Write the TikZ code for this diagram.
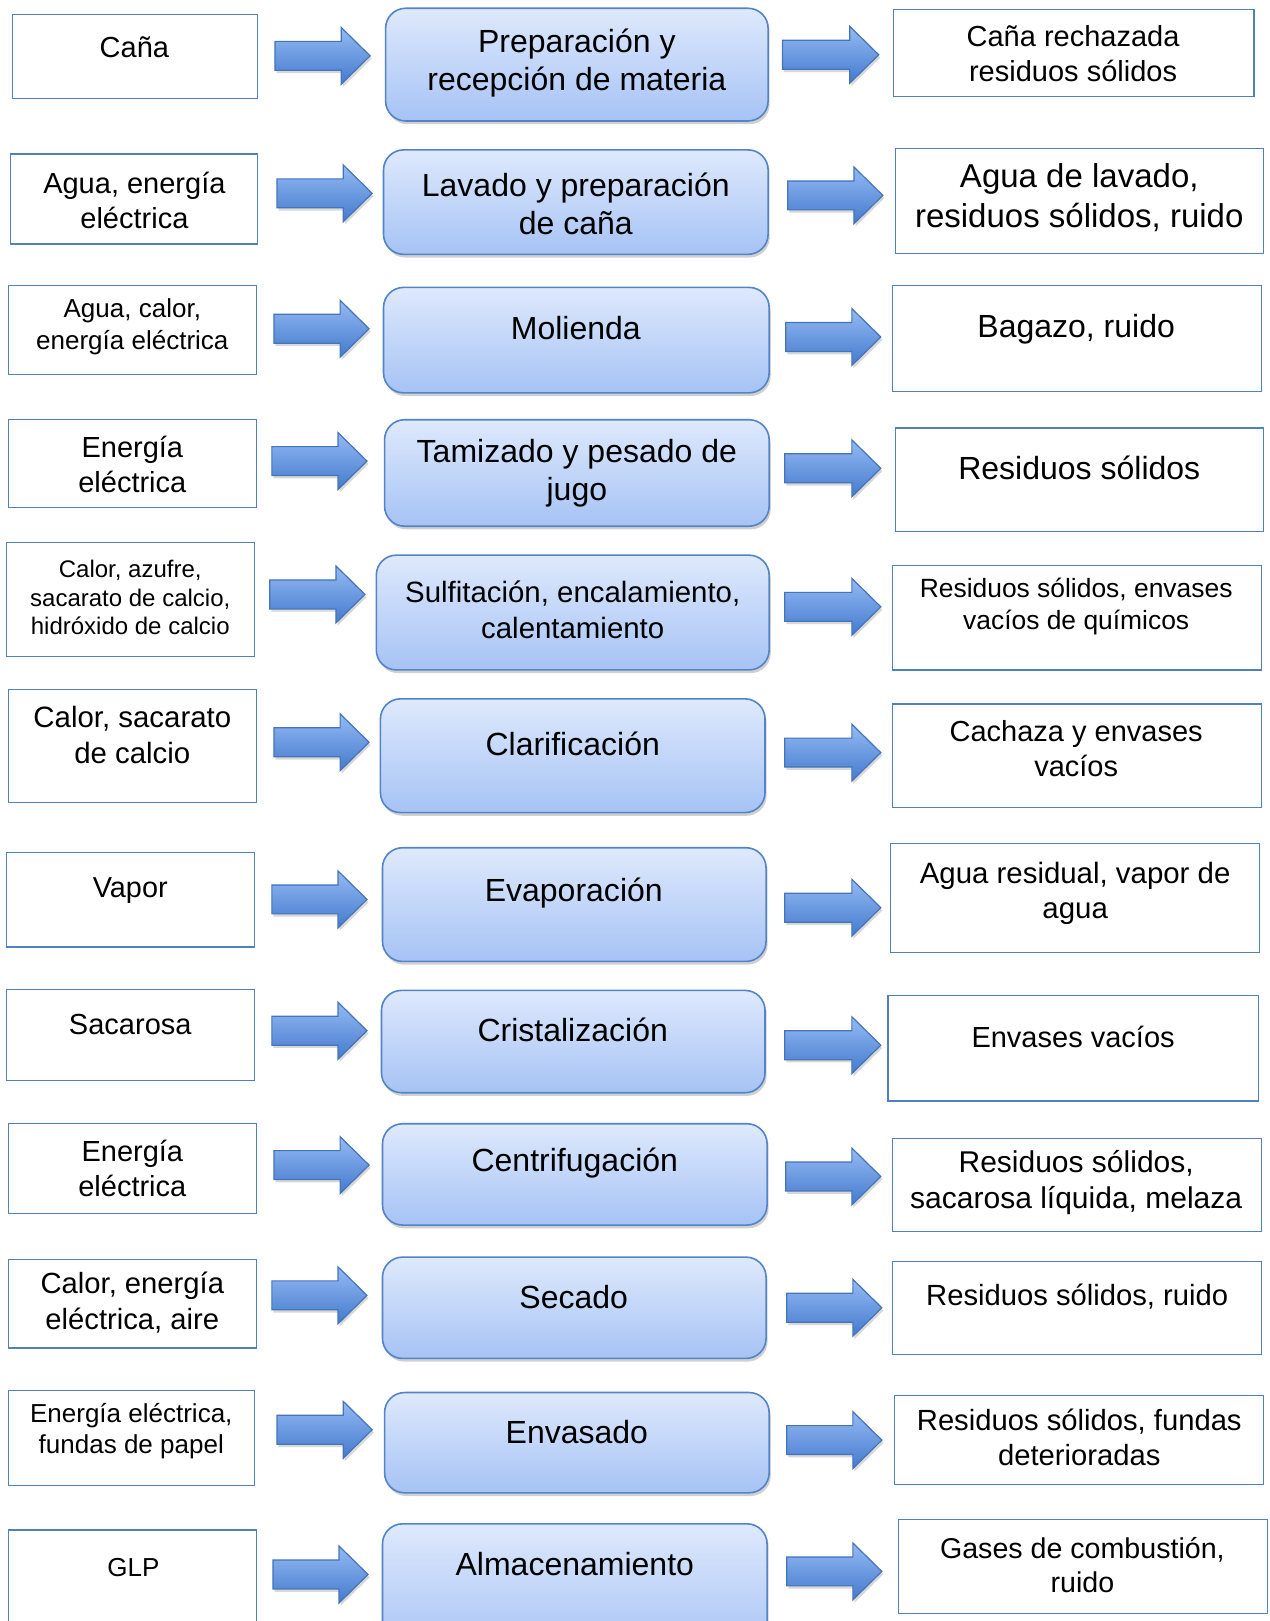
\documentclass[tikz,border=0pt]{standalone}
\usepackage{fontspec}
\setmainfont{Liberation Sans}
\usetikzlibrary{fit,shadows}
\definecolor{sideborder}{RGB}{79,129,189}
\definecolor{proctop}{RGB}{222,233,252}
\definecolor{procbot}{RGB}{166,195,245}
\definecolor{procborder}{RGB}{84,132,200}
\definecolor{arrtop}{RGB}{148,186,244}
\definecolor{arrbot}{RGB}{68,122,205}
\definecolor{arrborder}{RGB}{70,116,184}
\newcommand\fsz[1]{\fontsize{#1}{\fpeval{1.2*#1}}\selectfont}
\tikzset{
  sidebox/.style={draw=sideborder, line width=0.6pt, fill=white, inner sep=0pt},
  procbox/.style={draw=procborder, line width=0.8pt, rounded corners=10pt,
    top color=proctop, bottom color=procbot, inner sep=0pt,
    drop shadow={shadow xshift=0.8pt, shadow yshift=-1.6pt, opacity=0.3, fill=black!60}},
  blockarrow/.style={draw=arrborder, line width=0.6pt, line join=miter,
    top color=arrtop, bottom color=arrbot,
    drop shadow={shadow xshift=0.8pt, shadow yshift=-1.4pt, opacity=0.25, fill=black!60}},
  txt/.style={align=center, inner sep=0pt, text=black},
}
\newcommand\sidebx[5]{\node[sidebox, fit={(#2,#3) (#4,#5)}] (#1) {};}
\newcommand\procbx[5]{\node[procbox, fit={(#2,#3) (#4,#5)}] (#1) {};}
\newcommand\flowarrow[3]{%
  \draw[blockarrow] (#1,{#3-14}) -- ({#2-28},{#3-14}) -- ({#2-28},{#3-27.5}) -- (#2,#3)
    -- ({#2-28},{#3+27.5}) -- ({#2-28},{#3+14}) -- (#1,{#3+14}) -- cycle;}
\begin{document}
\begin{tikzpicture}[x=0.51669pt, y=-0.51669pt]
\useasboundingbox (0,0) rectangle (1228,1568);
\fill[white] (0,0) rectangle (1228,1568);
\clip (0,0) rectangle (1228,1568);
% Row 1
\sidebx{L1}{12}{14}{249}{95}
\procbx{C1}{373}{8}{743}{117}
\sidebx{R1}{864}{9}{1213}{93}
\flowarrow{266}{358}{54}
\flowarrow{757}{850}{53}
\node[txt, font=\fsz{14.5}] (tL1) at (130,46) {Caña};
\node[txt, font=\fsz{16}] (tC1) at (558,61) {Preparación y\\recepción de materia};
\node[txt, font=\fsz{14.5}] (tR1) at (1038,52) {Caña rechazada\\residuos sólidos};
% Row 2
\sidebx{L2}{10}{149}{249}{236}
\procbx{C2}{371}{145}{743}{246}
\sidebx{R2}{866}{144}{1222}{245}
\flowarrow{268}{360}{187}
\flowarrow{762}{854}{189}
\node[txt, font=\fsz{14.5}] (tL2) at (130,194) {Agua, energía\\eléctrica};
\node[txt, font=\fsz{16}] (tC2) at (557,197) {Lavado y preparación\\de caña};
\node[txt, font=\fsz{16.5}] (tR2) at (1044,191) {Agua de lavado,\\residuos sólidos, ruido};
% Row 3
\sidebx{L3}{8}{276}{248}{362}
\procbx{C3}{371}{278}{744}{380}
\sidebx{R3}{863}{276}{1220}{379}
\flowarrow{265}{357}{318}
\flowarrow{760}{852}{326}
\node[txt, font=\fsz{13}] (tL3) at (128,316) {Agua, calor,\\energía eléctrica};
\node[txt, font=\fsz{16}] (tC3) at (557,317) {Molienda};
\node[txt, font=\fsz{16}] (tR3) at (1041,318) {Bagazo, ruido};
% Row 4
\sidebx{L4}{8}{406}{248}{491}
\procbx{C4}{372}{406}{744}{509}
\sidebx{R4}{866}{414}{1222}{514}
\flowarrow{263}{355}{446}
\flowarrow{759}{852}{453}
\node[txt, font=\fsz{14.5}] (tL4) at (128,449) {Energía\\eléctrica};
\node[txt, font=\fsz{16}] (tC4) at (558,458) {Tamizado y pesado de\\jugo};
\node[txt, font=\fsz{16}] (tR4) at (1044,453) {Residuos sólidos};
% Row 5
\sidebx{L5}{6}{525}{246}{635}
\procbx{C5}{364}{537}{744}{648}
\sidebx{R5}{863}{547}{1220}{648}
\flowarrow{261}{353}{575}
\flowarrow{759}{852}{587}
\node[txt, font=\fsz{12}] (tL5) at (126,578) {Calor, azufre,\\sacarato de calcio,\\hidróxido de calcio};
\node[txt, font=\fsz{14.7}] (tC5) at (554,590) {Sulfitación, encalamiento,\\calentamiento};
\node[txt, font=\fsz{13.2}] (tR5) at (1041,587) {Residuos sólidos, envases\\vacíos de químicos};
% Row 6
\sidebx{L6}{8}{667}{248}{776}
\procbx{C6}{368}{676}{740}{786}
\sidebx{R6}{863}{681}{1220}{781}
\flowarrow{265}{357}{718}
\flowarrow{759}{852}{728}
\node[txt, font=\fsz{14.7}] (tL6) at (128,711) {Calor, sacarato\\de calcio};
\node[txt, font=\fsz{16}] (tC6) at (554,720) {Clarificación};
\node[txt, font=\fsz{14.5}] (tR6) at (1041,724) {Cachaza y envases\\vacíos};
% Row 7
\sidebx{L7}{6}{825}{246}{916}
\procbx{C7}{370}{820}{741}{930}
\sidebx{R7}{861}{816}{1218}{921}
\flowarrow{263}{355}{870}
\flowarrow{759}{852}{878}
\node[txt, font=\fsz{14.4}] (tL7) at (126,861) {Vapor};
\node[txt, font=\fsz{16}] (tC7) at (555,864) {Evaporación};
\node[txt, font=\fsz{14.7}] (tR7) at (1040,864) {Agua residual, vapor de\\agua};
% Row 8
\sidebx{L8}{6}{957}{246}{1045}
\procbx{C8}{369}{958}{740}{1057}
\sidebx{R8}{859}{963}{1217}{1065}
\flowarrow{263}{355}{997}
\flowarrow{759}{852}{1011}
\node[txt, font=\fsz{14.5}] (tL8) at (126,991) {Sacarosa};
\node[txt, font=\fsz{16}] (tC8) at (554,996) {Cristalización};
\node[txt, font=\fsz{14.5}] (tR8) at (1038,1003) {Envases vacíos};
% Row 9
\sidebx{L9}{8}{1087}{248}{1174}
\procbx{C9}{370}{1087}{742}{1185}
\sidebx{R9}{863}{1101}{1220}{1191}
\flowarrow{265}{357}{1127}
\flowarrow{760}{852}{1138}
\node[txt, font=\fsz{14.5}] (tL9) at (128,1130) {Energía\\eléctrica};
\node[txt, font=\fsz{16}] (tC9) at (556,1125) {Centrifugación};
\node[txt, font=\fsz{15}] (tR9) at (1041,1144) {Residuos sólidos,\\sacarosa líquida, melaza};
% Row 10
\sidebx{L10}{8}{1218}{248}{1304}
\procbx{C10}{370}{1216}{741}{1314}
\sidebx{R10}{863}{1220}{1220}{1310}
\flowarrow{263}{355}{1253}
\flowarrow{761}{853}{1265}
\node[txt, font=\fsz{14.6}] (tL10) at (128,1260) {Calor, energía\\eléctrica, aire};
\node[txt, font=\fsz{16}] (tC10) at (555,1255) {Secado};
\node[txt, font=\fsz{14.6}] (tR10) at (1042,1254) {Residuos sólidos, ruido};
% Row 11
\sidebx{L11}{8}{1345}{246}{1437}
\procbx{C11}{372}{1347}{744}{1444}
\sidebx{R11}{865}{1350}{1222}{1436}
\flowarrow{268}{360}{1383}
\flowarrow{761}{853}{1393}
\node[txt, font=\fsz{13}] (tL11) at (127,1384) {Energía eléctrica,\\fundas de papel};
\node[txt, font=\fsz{16}] (tC11) at (558,1385) {Envasado};
\node[txt, font=\fsz{14.6}] (tR11) at (1044,1390) {Residuos sólidos, fundas\\deterioradas};
% Row 12
\sidebx{L12}{8}{1480}{248}{1600}
\procbx{C12}{370}{1474}{742}{1600}
\sidebx{R12}{869}{1470}{1226}{1561}
\flowarrow{264}{356}{1523}
\flowarrow{761}{853}{1520}
\node[txt, font=\fsz{13}] (tL12) at (129,1516) {GLP};
\node[txt, font=\fsz{16}] (tC12) at (556,1513) {Almacenamiento};
\node[txt, font=\fsz{14.3}] (tR12) at (1047,1514) {Gases de combustión,\\ruido};
\end{tikzpicture}
\end{document}
